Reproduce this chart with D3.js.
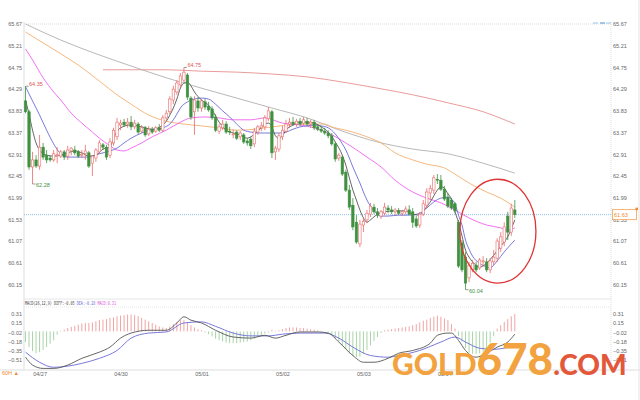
<!DOCTYPE html>
<html><head><meta charset="utf-8">
<script src="https://cdn.jsdelivr.net/npm/d3@7"></script>
<style>body{margin:0;background:#fff}svg{display:block}text{font-family:"Liberation Sans",Arial,sans-serif}</style>
</head><body><svg id="c" width="640" height="400"></svg>
<script>
const opens=[64.04,63.81,62.64,62.79,62.66,63.06,62.89,62.83,62.79,62.89,
62.87,62.96,62.87,62.98,63.00,62.96,62.89,62.92,62.94,62.72,
62.83,62.96,63.11,63.06,62.89,63.15,63.28,63.53,63.59,63.55,
63.59,63.49,63.55,63.40,63.47,63.34,63.44,63.40,63.47,63.42,
63.68,63.81,64.06,64.23,64.38,64.48,64.59,64.10,63.81,64.04,
63.89,64.02,63.93,63.87,63.70,63.40,63.47,63.55,63.40,63.32,
63.38,63.28,63.32,63.19,63.23,63.13,63.38,63.47,63.49,63.66,
63.81,62.96,63.02,63.28,63.40,63.55,63.59,63.55,63.61,63.57,
63.61,63.55,63.59,63.49,63.44,63.40,63.36,63.30,63.13,62.83,
62.85,62.53,62.15,61.83,61.47,61.01,61.41,61.52,61.64,61.79,
61.69,61.60,61.66,61.77,61.73,61.69,61.71,61.66,61.69,61.73,
61.69,61.54,61.41,61.64,61.83,62.09,62.15,62.38,62.36,62.17,
62.00,61.94,61.86,61.47,61.03,60.73,60.29,60.46,60.56,60.50,
60.63,60.63,60.46,60.63,60.71,60.92,61.05,61.60,61.26,61.73];
const highs=[64.35,63.85,62.96,62.89,63.32,63.15,63.00,62.89,63.00,63.06,
63.00,63.00,63.09,63.06,63.09,63.00,63.00,63.11,62.98,62.89,
63.04,63.21,63.15,63.11,63.25,63.47,63.68,63.64,63.66,63.68,
63.72,63.64,63.59,63.53,63.51,63.51,63.49,63.51,63.55,63.74,
63.85,64.14,64.36,64.48,64.63,64.75,64.63,64.14,64.14,64.12,
64.08,64.08,64.02,63.93,63.76,63.55,63.64,63.61,63.49,63.44,
63.42,63.40,63.36,63.25,63.28,63.47,63.53,63.59,63.74,63.91,
63.85,63.09,63.36,63.51,63.64,63.68,63.70,63.66,63.68,63.70,
63.68,63.64,63.64,63.55,63.51,63.47,63.42,63.36,63.17,62.94,
62.89,62.58,62.26,61.98,61.62,61.52,61.56,61.73,61.88,61.86,
61.77,61.73,61.88,61.83,61.81,61.77,61.77,61.73,61.81,61.83,
61.77,61.60,61.69,61.94,62.19,62.26,62.47,62.49,62.47,62.24,
62.09,61.98,61.90,61.52,61.09,60.84,60.63,60.67,60.63,60.71,
60.75,60.71,60.71,60.88,61.13,61.26,61.47,61.69,61.86,61.94];
const lows=[63.78,62.58,62.28,62.62,62.58,62.79,62.72,62.75,62.75,62.72,
62.83,62.79,62.79,62.89,62.89,62.83,62.83,62.79,62.62,62.45,
62.75,62.92,63.00,62.79,62.83,63.09,63.21,63.42,63.49,63.47,
63.42,63.44,63.34,63.36,63.28,63.30,63.34,63.36,63.38,63.38,
63.64,63.76,63.97,64.17,64.31,64.44,64.06,63.64,63.32,63.81,
63.81,63.85,63.81,63.64,63.38,63.34,63.42,63.34,63.32,63.25,
63.21,63.21,63.13,63.09,63.02,63.06,63.32,63.40,63.42,63.61,
62.83,62.79,62.96,63.21,63.36,63.47,63.51,63.49,63.51,63.53,
63.51,63.47,63.42,63.40,63.36,63.32,63.25,63.09,62.75,62.77,
62.45,62.11,61.73,61.30,61.01,60.94,61.26,61.45,61.58,61.64,
61.56,61.54,61.62,61.66,61.64,61.62,61.62,61.60,61.64,61.62,
61.35,61.35,61.35,61.60,61.77,61.94,62.07,62.28,62.13,61.92,
61.77,61.73,61.66,60.50,60.41,60.04,60.20,60.41,60.41,60.46,
60.54,60.41,60.39,60.56,60.63,60.84,60.96,61.09,61.18,61.56];
const closes=[63.81,62.64,62.79,62.66,63.06,62.85,62.79,62.79,62.92,62.90,
62.96,62.85,63.00,63.04,62.94,62.87,62.91,62.98,62.66,62.87,
63.00,63.15,63.06,62.85,63.17,63.42,63.59,63.57,63.53,63.59,
63.49,63.57,63.38,63.47,63.32,63.44,63.38,63.47,63.42,63.68,
63.78,64.08,64.29,64.42,64.57,64.65,64.12,63.70,64.06,63.89,
64.04,63.91,63.85,63.68,63.42,63.49,63.55,63.38,63.38,63.34,
63.25,63.36,63.17,63.15,63.09,63.40,63.49,63.51,63.68,63.83,
62.94,63.04,63.30,63.42,63.55,63.59,63.55,63.61,63.55,63.64,
63.55,63.59,63.47,63.44,63.40,63.36,63.30,63.13,62.81,62.89,
62.49,62.15,61.79,61.37,61.05,61.43,61.49,61.66,61.81,61.69,
61.62,61.69,61.79,61.73,61.69,61.73,61.66,61.69,61.75,61.64,
61.47,61.39,61.64,61.86,62.11,62.19,62.41,62.36,62.17,61.96,
61.81,61.77,61.71,60.54,60.46,60.18,60.56,60.60,60.46,60.67,
60.65,60.46,60.65,60.73,61.07,61.16,61.37,61.26,61.77,61.63];

// moving-average lines: [candle index, price]
const ma5=[[0,64.06],[1,63.76],[2,63.42],[3,63.15],[4,63.00],[6,62.89],[8,62.87],[10,62.89],[12,62.94],[14,62.98],[16,62.94],[18,62.87],[20,62.89],[22,63.02],[24,63.06],[25,63.25],[27,63.47],[30,63.53],[33,63.49],[36,63.44],[39,63.53],[40,63.61],[41,63.74],[42,63.89],[43,64.08],[44,64.31],[45,64.42],[46,64.44],[47,64.36],[48,64.23],[50,64.06],[52,63.95],[53,63.85],[55,63.59],[57,63.42],[59,63.36],[61,63.32],[63,63.25],[64,63.28],[66,63.40],[68,63.55],[69,63.57],[70,63.49],[71,63.30],[72,63.25],[73,63.30],[74,63.42],[76,63.53],[78,63.59],[80,63.59],[82,63.57],[84,63.49],[86,63.38],[88,63.17],[90,62.89],[91,62.68],[92,62.41],[93,62.15],[94,61.94],[95,61.73],[96,61.56],[97,61.47],[98,61.52],[100,61.64],[102,61.69],[105,61.71],[108,61.71],[110,61.64],[112,61.62],[113,61.71],[115,61.90],[117,62.15],[118,62.22],[119,62.19],[120,62.07],[121,61.96],[122,61.69],[123,61.47],[124,61.18],[125,60.88],[126,60.73],[127,60.63],[129,60.52],[131,60.60],[133,60.77],[135,60.96],[137,61.16],[139,61.52]];
const ma10=[[0,64.34],[2,64.04],[4,63.74],[6,63.42],[8,63.13],[10,62.92],[12,62.85],[15,62.85],[18,62.85],[21,62.92],[24,62.98],[26,63.04],[28,63.15],[30,63.25],[33,63.36],[35,63.42],[37,63.44],[39,63.47],[41,63.55],[42,63.64],[43,63.76],[44,63.89],[46,64.02],[48,64.08],[50,64.10],[52,64.08],[54,63.97],[56,63.83],[58,63.70],[60,63.55],[62,63.42],[64,63.38],[66,63.36],[68,63.36],[70,63.36],[72,63.36],[74,63.38],[76,63.44],[78,63.49],[80,63.51],[82,63.53],[84,63.51],[86,63.47],[88,63.34],[90,63.13],[91,63.00],[92,62.83],[93,62.64],[94,62.47],[95,62.30],[96,62.11],[97,61.94],[98,61.81],[99,61.71],[101,61.60],[103,61.60],[106,61.62],[109,61.62],[112,61.66],[114,61.77],[116,61.90],[118,61.98],[120,62.00],[121,61.96],[122,61.86],[123,61.62],[124,61.41],[125,61.09],[126,60.90],[127,60.75],[129,60.60],[131,60.52],[132,60.50],[133,60.56],[134,60.65],[136,60.84],[138,61.01],[139,61.09]];
const ma20=[[0,65.14],[2,64.91],[5,64.53],[8,64.23],[10,64.06],[13,63.78],[16,63.57],[19,63.38],[21,63.25],[24,63.09],[26,63.00],[28,62.98],[30,63.04],[33,63.15],[36,63.28],[40,63.42],[44,63.59],[47,63.68],[51,63.70],[55,63.68],[59,63.64],[64,63.64],[68,63.68],[73,63.57],[78,63.53],[82,63.47],[86,63.36],[91,63.15],[97,62.85],[101,62.64],[105,62.36],[110,62.11],[114,61.98],[118,61.88],[121,61.77],[126,61.56],[131,61.41],[135,61.35],[137,61.30],[139,61.35]];
const ma60=[[0,65.50],[5,65.27],[10,65.04],[15,64.80],[21,64.46],[26,64.17],[30,63.97],[35,63.74],[40,63.61],[45,63.55],[50,63.51],[55,63.47],[60,63.42],[65,63.44],[70,63.49],[75,63.53],[80,63.55],[85,63.55],[87,63.49],[91,63.42],[97,63.28],[101,63.15],[105,62.94],[110,62.79],[114,62.70],[119,62.62],[122,62.49],[126,62.30],[131,62.11],[135,61.98],[139,61.79]];
const ma120=[[0,65.67],[10,65.33],[20,65.04],[30,64.78],[40,64.53],[50,64.31],[60,64.10],[70,63.89],[80,63.68],[90,63.40],[100,63.17],[110,63.02],[120,62.92],[130,62.72],[139,62.51]];
const ma250=[[22,64.70],[30,64.70],[40,64.70],[50,64.67],[60,64.65],[70,64.61],[80,64.55],[90,64.44],[100,64.31],[110,64.17],[120,64.00],[130,63.81],[139,63.55]];

const macdHist=[-0.19,-0.28,-0.35,-0.39,-0.37,-0.33,-0.28,-0.22,-0.16,-0.06,
0.01,0.03,0.06,0.08,0.10,0.12,0.14,0.15,0.15,0.16,
0.18,0.20,0.21,0.22,0.24,0.25,0.27,0.28,0.29,0.30,
0.30,0.29,0.27,0.24,0.21,0.18,0.15,0.12,0.09,0.07,
0.06,0.09,0.13,0.17,0.20,0.20,0.16,0.11,0.07,0.04,
0.02,-0.02,-0.05,-0.09,-0.13,-0.16,-0.18,-0.20,-0.21,-0.21,
-0.21,-0.20,-0.19,-0.18,-0.16,-0.13,-0.10,-0.07,-0.04,-0.02,
0.03,0.01,0.02,0.04,0.06,0.07,0.07,0.07,0.06,0.06,
0.05,0.04,0.03,0.02,0.01,0.00,-0.02,-0.06,-0.12,-0.18,
-0.25,-0.32,-0.39,-0.44,-0.46,-0.45,-0.40,-0.33,-0.25,-0.17,
-0.10,-0.03,0.02,0.03,0.04,0.05,0.06,0.07,0.08,0.09,
0.11,0.13,0.16,0.19,0.21,0.24,0.26,0.28,0.26,0.23,
0.20,0.13,0.05,-0.08,-0.18,-0.30,-0.38,-0.40,-0.40,-0.39,
-0.36,-0.30,-0.20,-0.08,0.05,0.11,0.17,0.22,0.27,0.31];
const diffLine=[[0,-0.46],[2,-0.60],[5,-0.66],[8,-0.66],[12,-0.60],[16,-0.48],[21,-0.37],[24,-0.28],[27,-0.12],[30,-0.03],[35,0.02],[40,0.02],[43,0.15],[45,0.26],[47,0.20],[50,0.15],[54,0.02],[59,-0.10],[64,-0.12],[68,-0.07],[71,-0.12],[74,-0.07],[78,-0.01],[83,-0.01],[86,-0.03],[89,-0.19],[93,-0.43],[96,-0.55],[99,-0.55],[103,-0.48],[106,-0.39],[110,-0.34],[115,-0.21],[117,-0.07],[120,-0.03],[121,-0.03],[123,-0.16],[125,-0.34],[128,-0.46],[131,-0.39],[134,-0.28],[137,-0.19],[139,-0.05]];
const deaLine=[[0,-0.37],[4,-0.55],[8,-0.64],[12,-0.62],[16,-0.57],[21,-0.48],[26,-0.34],[30,-0.12],[35,-0.03],[40,-0.01],[45,0.15],[50,0.17],[54,0.09],[59,-0.03],[64,-0.08],[69,-0.08],[73,-0.05],[78,-0.03],[85,-0.03],[89,-0.12],[93,-0.28],[98,-0.43],[103,-0.46],[106,-0.43],[112,-0.34],[118,-0.19],[122,-0.10],[125,-0.19],[129,-0.30],[133,-0.32],[139,-0.25]];

const priceTicks=[65.67,65.21,64.75,64.29,63.83,63.37,62.91,62.45,61.99,61.53,61.07,60.61,60.15];
const macdTicks=[0.31,0.15,-0.02,-0.18,-0.35,-0.51];
const dateLabels=["04/27","04/30","05/01","05/02","05/03","05/04"];
const dateIdx=[4,27,50,73,96,119];
const lastPrice=61.63;
const marks=[{i:0,p:64.35,t:"64.35",up:true},{i:45,p:64.75,t:"64.75",up:true},{i:2,p:62.28,t:"62.28",up:false},{i:125,p:60.04,t:"60.04",up:false}];
const ring={i:134.2,p:61.28,di:10.8,dp:1.1};

const svg=d3.select("#c");
const x=d3.scaleLinear().domain([0,139]).range([25.5,514.8]);
const y=d3.scaleLinear().domain([60.15,65.67]).range([284.5,24]);
const ym=d3.scaleLinear().domain([-0.51,0.31]).range([360,314]);
const UP="#e86a6a",DN="#3f9140",AX="#666";

// frame
svg.append("line").attr("x1",0).attr("x2",640).attr("y1",370).attr("y2",370).attr("stroke","#ddd");
svg.append("line").attr("x1",24).attr("x2",24).attr("y1",22).attr("y2",370).attr("stroke","#ddd");
svg.append("line").attr("x1",611).attr("x2",611).attr("y1",22).attr("y2",370).attr("stroke","#ddd").attr("stroke-dasharray","1,1");
svg.append("line").attr("x1",639).attr("x2",639).attr("y1",0).attr("y2",400).attr("stroke","#e4e4e4");
svg.append("line").attr("x1",24).attr("x2",611).attr("y1",y(65.67)).attr("y2",y(65.67)).attr("stroke","#ddd").attr("stroke-dasharray","1,1");
svg.append("line").attr("x1",24).attr("x2",611).attr("y1",299).attr("y2",299).attr("stroke","#e6e6e6");
svg.append("line").attr("x1",24).attr("x2",611).attr("y1",307).attr("y2",307).attr("stroke","#e6e6e6").attr("stroke-dasharray","1,1");
// small toolbar dashes at top right
[["#9cc3ea",593,598],["#4a8fd6",600,605],["#9cc3ea",606,611]].forEach(([c,a,b])=>{
  svg.append("line").attr("x1",a).attr("x2",b).attr("y1",23).attr("y2",23).attr("stroke",c).attr("stroke-width",1);
});

function styleAxis(g){g.select(".domain").remove();g.selectAll("text").attr("fill",AX).style("font-size","5.5px");}
svg.append("g").attr("transform","translate(23,0)").call(d3.axisLeft(y).tickValues(priceTicks).tickSize(0).tickPadding(1).tickFormat(d3.format(".2f"))).call(styleAxis);
svg.append("g").attr("transform","translate(612,0)").call(d3.axisRight(y).tickValues(priceTicks).tickSize(0).tickPadding(1).tickFormat(d3.format(".2f"))).call(styleAxis);
svg.append("g").attr("transform","translate(23,0)").call(d3.axisLeft(ym).tickValues(macdTicks).tickSize(0).tickPadding(1).tickFormat(d3.format(".2f"))).call(styleAxis);
svg.append("g").attr("transform","translate(612,0)").call(d3.axisRight(ym).tickValues(macdTicks).tickSize(0).tickPadding(1).tickFormat(d3.format(".2f"))).call(styleAxis);
svg.append("g").attr("transform","translate(0,370)").call(d3.axisBottom(x).tickValues(dateIdx).tickSize(0).tickPadding(2).tickFormat((d,i)=>dateLabels[i])).call(styleAxis);

// current price line
svg.append("line").attr("x1",24).attr("x2",611).attr("y1",y(lastPrice)).attr("y2",y(lastPrice)).attr("stroke","#8fbde8").attr("stroke-dasharray","1,1");

// MA lines
const L=d3.line().x(d=>x(d[0])).y(d=>y(d[1])).curve(d3.curveMonotoneX);
[[ma250,"#e89090"],[ma120,"#b0b0b0"],[ma60,"#f5b070"],[ma20,"#f060f0"],[ma10,"#6a6ad6"],[ma5,"#555"]].forEach(([d,c])=>{
  svg.append("path").attr("d",L(d)).attr("fill","none").attr("stroke",c).attr("stroke-width",0.9);
});

// candles
const idx=d3.range(closes.length);
const cg=svg.append("g");
idx.forEach(i=>{
  const up=closes[i]>=opens[i], col=up?UP:DN, cx=x(i);
  cg.append("line").attr("x1",cx).attr("x2",cx).attr("y1",y(highs[i])).attr("y2",y(lows[i])).attr("stroke",col).attr("stroke-width",0.8);
  const t=y(Math.max(opens[i],closes[i])), b=y(Math.min(opens[i],closes[i]));
  cg.append("rect").attr("x",cx-1.2).attr("y",t).attr("width",2.4).attr("height",Math.max(0.8,b-t))
    .attr("fill",up?"#fff":DN).attr("stroke",col).attr("stroke-width",0.6);
});

// high / low markers
marks.forEach(m=>{
  const cx=x(m.i), cy=y(m.p), c=m.up?"#e05555":"#3f9140";
  svg.append("line").attr("x1",cx).attr("x2",cx+3).attr("y1",cy).attr("y2",cy).attr("stroke","#555").attr("stroke-width",0.6);
  svg.append("text").attr("x",cx+3.5).attr("y",cy+(m.up?0:3)).attr("fill",c).style("font-size","5.5px").text(m.t);
});

// price box
const by=y(lastPrice);
svg.append("rect").attr("x",612.5).attr("y",by-5).attr("width",24).attr("height",10).attr("fill","#fff").attr("stroke","#f5a050").attr("stroke-width",0.8);
svg.append("rect").attr("x",635.5).attr("y",by-7).attr("width",2.5).attr("height",2.5).attr("fill","#f08a30");
svg.append("text").attr("x",614).attr("y",by+2).attr("fill","#f08a30").style("font-size","5.5px").text(lastPrice.toFixed(2));

// ring annotation
svg.append("ellipse").attr("cx",x(ring.i)).attr("cy",y(ring.p))
  .attr("rx",x(ring.i+ring.di)-x(ring.i)).attr("ry",y(ring.p-ring.dp)-y(ring.p))
  .attr("fill","none").attr("stroke","#e03535").attr("stroke-width",1.3);

// MACD panel
const z=ym(0);
idx.forEach(i=>{
  const v=macdHist[i];
  svg.append("line").attr("x1",x(i)).attr("x2",x(i)).attr("y1",z).attr("y2",ym(v))
    .attr("stroke",v>=0?"#f0a4a4":"#a9d4a9").attr("stroke-width",1);
});
const LM=d3.line().x(d=>x(d[0])).y(d=>ym(d[1])).curve(d3.curveMonotoneX);
svg.append("path").attr("d",LM(deaLine)).attr("fill","none").attr("stroke","#6a6ad6").attr("stroke-width",0.9);
svg.append("path").attr("d",LM(diffLine)).attr("fill","none").attr("stroke","#555").attr("stroke-width",0.9);

const lg=svg.append("text").attr("x",25).attr("y",305).style("font-size","5.5px").style("font-family","'DejaVu Sans Mono',monospace").attr("textLength",91).attr("lengthAdjust","spacingAndGlyphs");
lg.append("tspan").attr("fill","#444").text("MACD(26,12,9) DIFF:"+diffLine[diffLine.length-1][1].toFixed(2)+" ");
lg.append("tspan").attr("fill","#6a6ad6").text("DEA:-0.28 ");
lg.append("tspan").attr("fill","#e050e0").text("MACD:"+macdHist[macdHist.length-1].toFixed(2));

// period tag
svg.append("text").attr("x",2).attr("y",375).attr("fill","#f08a30").style("font-size","5.5px").text("60H ▲");

// watermark
const wm=svg.append("text").attr("x",392).attr("y",375).style("font-family","Lato,'Open Sans',sans-serif").style("font-weight","900");
wm.append("tspan").attr("fill","#f2a33f").style("font-size","30px").text("GOLD");
wm.append("tspan").attr("fill","#f2a33f").style("font-size","44px").text("678");
wm.append("tspan").attr("fill","#e3583a").style("font-size","28px").text(".COM");
</script></body></html>
